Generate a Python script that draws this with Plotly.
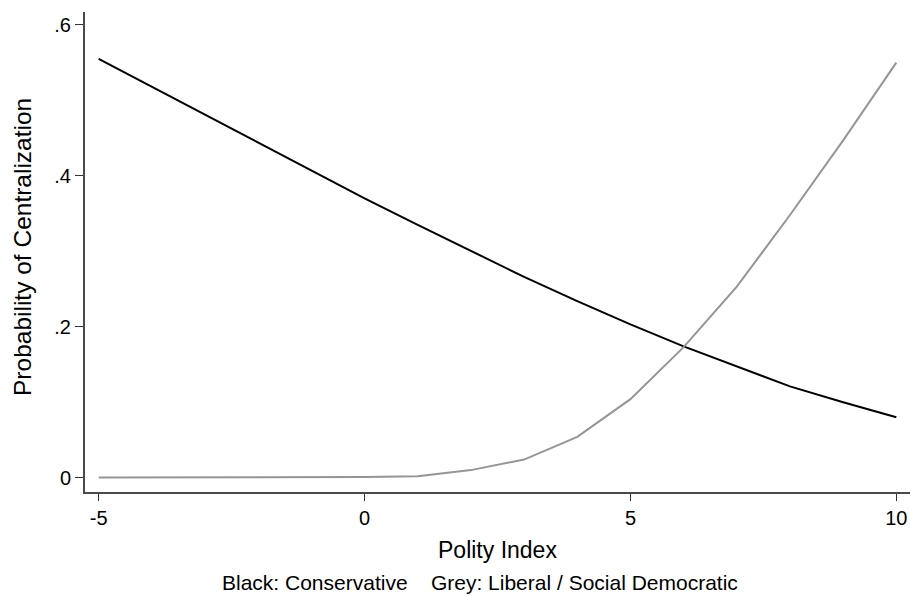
import plotly.graph_objects as go

polity = [-5, -4, -3, -2, -1, 0, 1, 2, 3, 4, 5, 6, 7, 8, 9, 10]
conservative = [0.555, 0.518, 0.481, 0.444, 0.407, 0.370, 0.335, 0.300, 0.266, 0.234, 0.203, 0.174, 0.147, 0.121, 0.100, 0.080]
liberal = [0.0001, 0.0001, 0.0002, 0.0003, 0.0005, 0.001, 0.002, 0.010, 0.024, 0.054, 0.104, 0.173, 0.253, 0.348, 0.447, 0.550]

x_ticks = [-5, 0, 5, 10]
x_ticktext = ["-5", "0", "5", "10"]
y_ticks = [0, 0.2, 0.4, 0.6]
y_ticktext = ["0", ".2", ".4", ".6"]

FONT = "Liberation Sans, Arial, Helvetica, sans-serif"
W, H = 911, 596
ml, mr, mt, mb = 85, 1, 12, 104

fig = go.Figure()
fig.add_trace(go.Scatter(x=polity, y=conservative, mode="lines",
                         line=dict(color="#000000", width=2), showlegend=False))
fig.add_trace(go.Scatter(x=polity, y=liberal, mode="lines",
                         line=dict(color="#959595", width=2), showlegend=False))

fig.update_layout(
    width=W, height=H,
    margin=dict(l=ml, r=mr, t=mt, b=mb, pad=0),
    paper_bgcolor="white", plot_bgcolor="white",
    font=dict(family=FONT, color="#000000"),
    xaxis=dict(range=[-5.257, 10.257], tickvals=x_ticks, ticktext=x_ticktext,
               ticks="outside", ticklen=7,
               tickwidth=1, tickcolor="#333333", showline=True, linecolor="#4a4a4a",
               linewidth=2, showgrid=False, zeroline=False, automargin=False,
               tickfont=dict(size=20, family=FONT, color="#000000")),
    yaxis=dict(range=[-0.019, 0.617], tickvals=y_ticks, ticktext=y_ticktext,
               ticks="outside", ticklen=8, tickwidth=1, tickcolor="#333333",
               showline=True, linecolor="#4a4a4a", linewidth=2, showgrid=False,
               zeroline=False, automargin=False,
               tickfont=dict(size=20, family=FONT, color="#000000")),
    annotations=[
        dict(text="Polity Index", xref="paper", yref="paper", x=0.5, y=0,
             xanchor="center", yanchor="top", yshift=-43, showarrow=False,
             font=dict(size=23, family=FONT, color="#000000")),
        dict(text="Probability of Centralization", xref="paper", yref="paper",
             x=0, y=0.5, xanchor="center", yanchor="middle", xshift=-63, yshift=5,
             textangle=-90, showarrow=False,
             font=dict(size=24.5, family=FONT, color="#000000")),
        dict(text="Black: Conservative&nbsp;&nbsp;&nbsp;&nbsp;Grey: Liberal / Social Democratic",
             xref="paper", yref="paper", x=(480 - ml) / (W - ml - mr), y=0,
             xanchor="center", yanchor="bottom", yshift=-104, showarrow=False,
             font=dict(size=21, family=FONT, color="#000000")),
    ],
)

fig.write_html("out.html", config={"displayModeBar": False})
with open("out.html", "r", encoding="utf-8") as f:
    html = f.read()
html = html.replace("<body>", '<body style="margin:0;padding:0;overflow:hidden">', 1)
with open("out.html", "w", encoding="utf-8") as f:
    f.write(html)
